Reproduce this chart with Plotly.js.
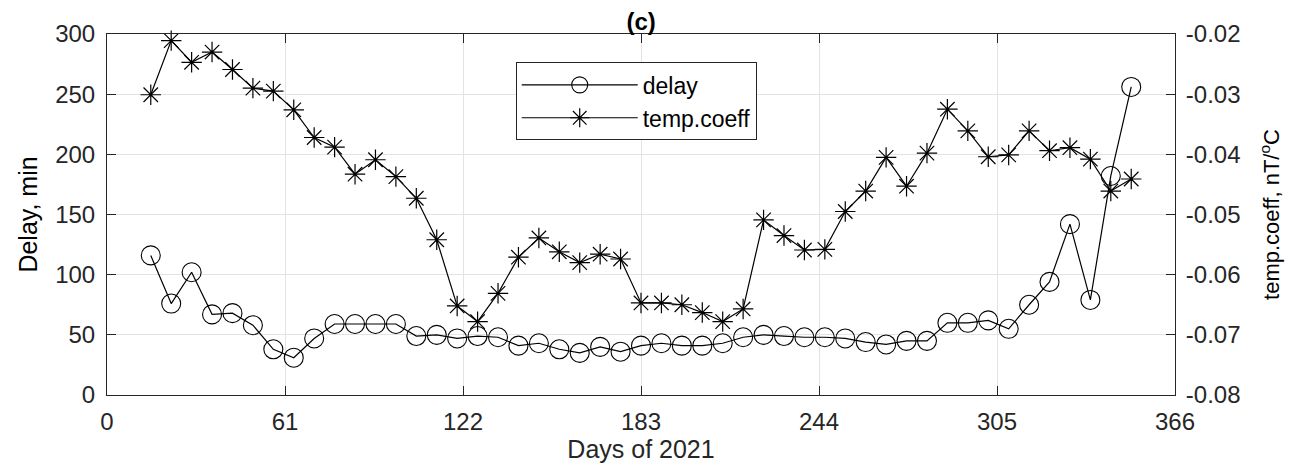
<!DOCTYPE html>
<html>
<head>
<meta charset="utf-8">
<script src="https://cdn.plot.ly/plotly-3.0.1.min.js"></script>
<style>html,body{margin:0;padding:0;background:#fff;}#chart{width:1303px;height:469px;}</style>
</head>
<body>
<div id="chart"></div>
<script>
const days = [15,22,29,36,43,50,57,64,71,78,85,92,99,106,113,120,127,134,141,148,155,162,169,176,183,190,197,204,211,218,225,232,239,246,253,260,267,274,281,288,295,302,309,316,323,330,337,344,351];
const delay = [116,76,102,67,68,58,38,31,47,59,59,59,59,49,50,47,49,48,41,43,38,35,40,36,41,43,41,41,43,48,50,49,48,48,47,44,42,45,45,60,60,62,55,75,94,142,79,182,256];
const tempCoeff = [-0.0301,-0.0211,-0.0247,-0.0230,-0.0259,-0.0290,-0.0295,-0.0326,-0.0372,-0.0388,
  -0.0433,-0.0409,-0.0437,-0.0473,-0.0542,-0.0652,-0.0678,-0.0631,-0.0571,-0.0539,
  -0.0562,-0.0580,-0.0566,-0.0574,-0.0647,-0.0647,-0.0650,-0.0663,-0.0678,-0.0657,
  -0.0509,-0.0535,-0.0559,-0.0558,-0.0495,-0.0461,-0.0405,-0.0453,-0.0398,-0.0325,
  -0.0361,-0.0404,-0.0401,-0.0361,-0.0394,-0.0389,-0.0408,-0.0461,-0.0441];
const xTicks = [0,61,122,183,244,305,366];
const yTicks = [0,50,100,150,200,250,300];
const y2Ticks = [-0.08,-0.07,-0.06,-0.05,-0.04,-0.03,-0.02];
const y2TickText = ['-0.08','-0.07','-0.06','-0.05','-0.04','-0.03','-0.02'];

const axisColor = '#262626';
const font = 'Liberation Sans, Arial, sans-serif';

const traces = [
  {x: days, y: delay, name: 'delay', type: 'scatter', mode: 'lines+markers', yaxis: 'y',
   line: {color: '#000', width: 1.2},
   marker: {symbol: 'circle-open', size: 19, color: '#000', line: {width: 1.1, color: '#000'}},
   cliponaxis: false},
  {x: days, y: tempCoeff, name: 'temp.coeff', type: 'scatter', mode: 'lines+markers', yaxis: 'y2',
   line: {color: '#000', width: 1.2},
   marker: {symbol: 'asterisk-open', size: 17, color: '#000', line: {width: 1.2, color: '#000'}},
   cliponaxis: false}
];

const layout = {
  width: 1303, height: 469,
  margin: {l: 107, r: 128, t: 34, b: 74, pad: 0},
  paper_bgcolor: '#fff', plot_bgcolor: '#fff',
  font: {family: font, color: axisColor, size: 24},
  title: {text: '<b>(c)</b>', x: 0.492, xref: 'container', y: 0.955, yref: 'container', yanchor: 'middle',
          font: {family: font, size: 24, color: '#000'}},
  showlegend: true,
  legend: {x: 0.3827, y: 0.9213, xanchor: 'left', yanchor: 'top', bgcolor: '#fff',
           bordercolor: axisColor, borderwidth: 1, itemwidth: 116,
           font: {family: font, size: 23, color: '#000'}},
  xaxis: {range: [0, 366], tickvals: xTicks, ticktext: xTicks.map(String), ticks: 'inside', ticklen: 9,
          tickcolor: axisColor, tickwidth: 1, mirror: 'ticks', showline: true, linecolor: axisColor, linewidth: 1,
          showgrid: true, gridcolor: '#e3e3e3', gridwidth: 1, zeroline: false,
          tickfont: {family: font, size: 24, color: axisColor}, ticklabelstandoff: 5,
          title: {text: 'Days of 2021', font: {family: font, size: 25, color: axisColor}, standoff: 5}},
  yaxis: {range: [0, 300], tickvals: yTicks, ticktext: yTicks.map(String), ticks: 'inside', ticklen: 9,
          tickcolor: axisColor, tickwidth: 1, showline: true, linecolor: axisColor, linewidth: 1,
          showgrid: true, gridcolor: '#e3e3e3', gridwidth: 1, zeroline: false,
          tickfont: {family: font, size: 24, color: axisColor}, ticklabelstandoff: 6,
          title: {text: 'Delay, min', font: {family: font, size: 25, color: '#000'}, standoff: 10}},
  yaxis2: {range: [-0.08, -0.02], overlaying: 'y', side: 'right', tickvals: y2Ticks, ticktext: y2TickText,
           ticks: 'inside', ticklen: 9, tickcolor: axisColor, tickwidth: 1, showline: true, linecolor: axisColor,
           linewidth: 1, showgrid: false, zeroline: false,
           tickfont: {family: font, size: 24, color: axisColor}, ticklabelstandoff: 5,
           title: {text: 'temp.coeff, nT/<sup>o</sup>C', font: {family: font, size: 22, color: '#000'}, standoff: 24}}
};

Plotly.newPlot('chart', traces, layout, {displayModeBar: false, staticPlot: true});
</script>
</body>
</html>
